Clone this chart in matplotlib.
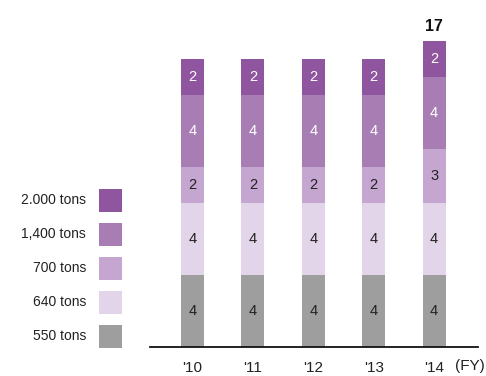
import matplotlib
matplotlib.use("Agg")
import matplotlib.pyplot as plt
from matplotlib.patches import Rectangle

plt.rcParams['font.family'] = ['Liberation Sans', 'DejaVu Sans']

years = ["'10", "'11", "'12", "'13", "'14"]
series_labels = ["550 tons", "640 tons", "700 tons", "1,400 tons", "2.000 tons"]
v550 = [4, 4, 4, 4, 4]
v640 = [4, 4, 4, 4, 4]
v700 = [2, 2, 2, 2, 3]
v1400 = [4, 4, 4, 4, 4]
v2000 = [2, 2, 2, 2, 2]
total_label_year = 4  # index of '14
series = [v550, v640, v700, v1400, v2000]
colors = ["#9e9e9e", "#e2d5e9", "#c4a6d0", "#a87db4", "#8f559e"]
text_colors = ["#222222", "#222222", "#222222", "white", "white"]

fig = plt.figure(figsize=(4.86, 3.76), dpi=100)
H = 376
W = 486
ax = fig.add_axes([150 / W, (H - 347) / H, 328 / W, 347 / H])
ax.set_xlim(-0.704, 4.727)
ax.set_ylim(0, 347 / 18.0)

x = list(range(len(years)))
bottom = [0] * len(years)
for vals, c, tc in zip(series, colors, text_colors):
    ax.bar(x, vals, width=0.38, bottom=bottom, color=c, linewidth=0)
    for i, v in enumerate(vals):
        ax.text(i, bottom[i] + v / 2, str(v), ha='center', va='center',
                color=tc, fontsize=10.5)
    bottom = [b + v for b, v in zip(bottom, vals)]

t = total_label_year
ax.text(t, bottom[t] + 0.4, str(bottom[t]), ha='center', va='bottom',
        fontsize=11.5, fontweight='bold', color='#111111')

for s in ['top', 'right', 'left']:
    ax.spines[s].set_visible(False)
ax.spines['bottom'].set_linewidth(1.3)
ax.spines['bottom'].set_color('#111111')
ax.set_yticks([])
ax.set_xticks(x)
ax.set_xticklabels(years, fontsize=11, color='#222222')
ax.tick_params(axis='x', length=0, pad=10)
fig.text(455 / W, (H - 366) / H, "(FY)", ha='left', va='center',
         fontsize=11, color='#222222')

# legend on the left
ys = [336, 302, 268, 234, 200]
for lab, c, yy in zip(series_labels, colors, ys):
    fig.patches.append(Rectangle((99 / W, (H - yy - 11.5) / H), 23 / W, 23 / H,
                                 transform=fig.transFigure, color=c, linewidth=0))
    fig.text(86 / W, (H - yy) / H, lab, ha='right', va='center',
             fontsize=10, color='#222222')

fig.savefig("out.png", dpi=100)
